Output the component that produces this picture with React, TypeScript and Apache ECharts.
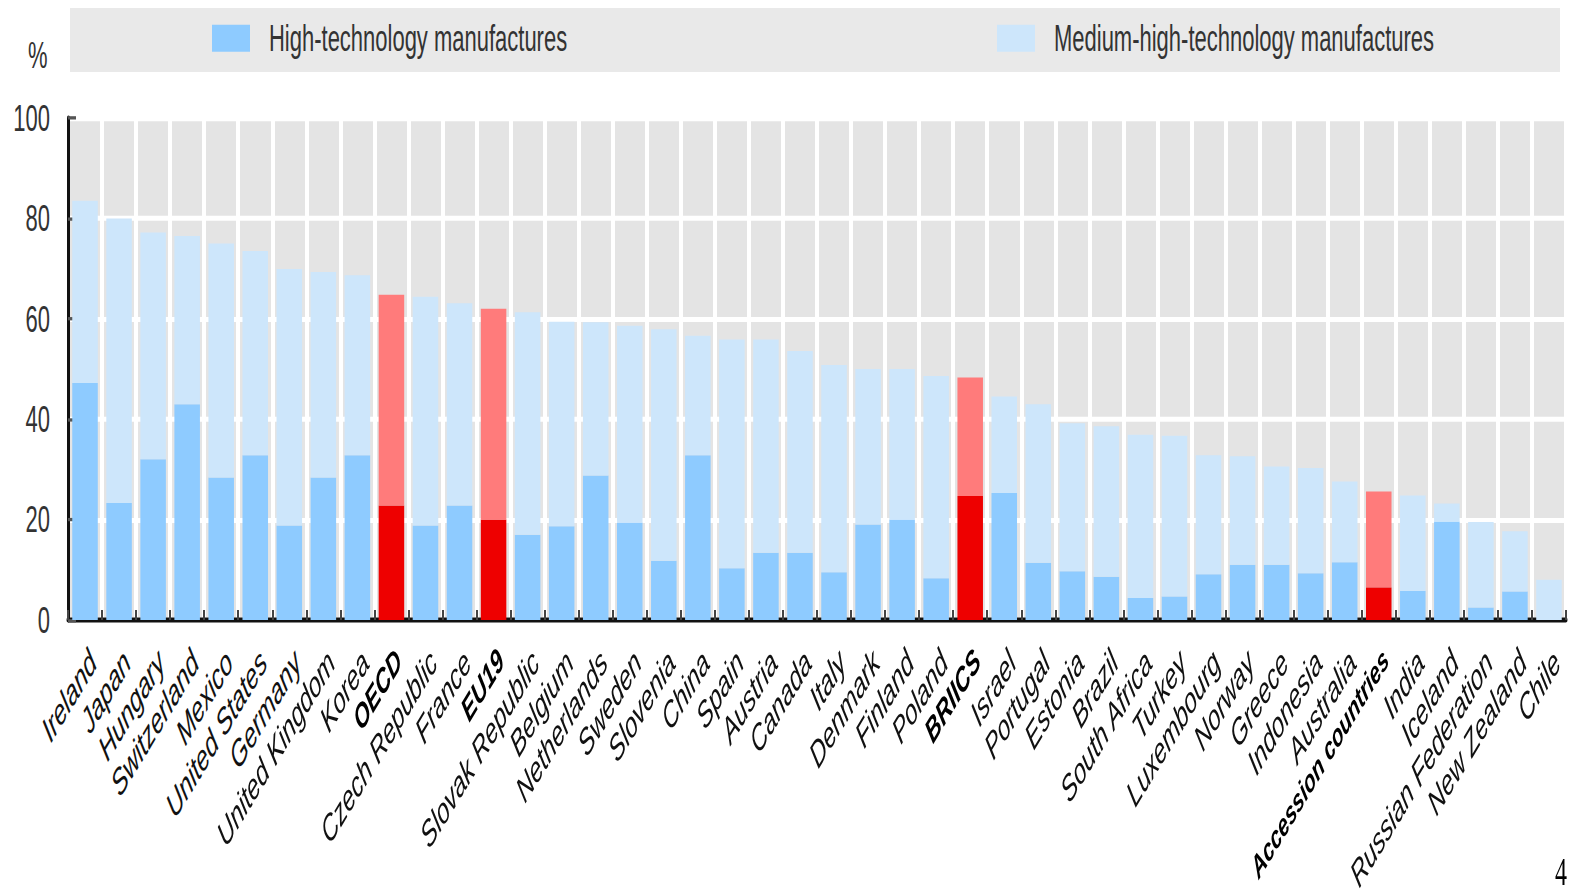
import React, { useEffect, useRef } from "react";
import * as echarts from "echarts";

// The reference is drawn with fonts stretched vertically; we reproduce it by
// rendering the chart at a reduced height and scaling it vertically.
const STRETCH = 1.66;
const PAGE_W = 1574;
const PAGE_H = 896;
const CHART_H = PAGE_H / STRETCH;

const categories = [
  "Ireland", "Japan", "Hungary", "Switzerland", "Mexico", "United States", "Germany",
  "United Kingdom", "Korea", "OECD", "Czech Republic", "France", "EU19", "Slovak Republic",
  "Belgium", "Netherlands", "Sweden", "Slovenia", "China", "Spain", "Austria", "Canada",
  "Italy", "Denmark", "Finland", "Poland", "BRIICS", "Israel", "Portugal", "Estonia",
  "Brazil", "South Africa", "Turkey", "Luxembourg", "Norway", "Greece", "Indonesia",
  "Australia", "Accession countries", "India", "Iceland", "Russian Federation",
  "New Zealand", "Chile",
];

const highlighted = ["OECD", "EU19", "BRIICS", "Accession countries"];

const highTech = [
  47.2, 23.3, 32.0, 43.0, 28.4, 32.8, 18.8, 28.4, 32.8, 22.8, 18.8, 22.8, 20.0, 17.0,
  18.7, 28.8, 19.4, 11.8, 32.8, 10.3, 13.4, 13.4, 9.5, 19.0, 20.0, 8.3, 24.7, 25.3,
  11.4, 9.7, 8.6, 4.4, 4.7, 9.1, 11.0, 11.0, 9.3, 11.5, 6.5, 5.8, 19.6, 2.5, 5.7, 0,
];

const mediumHighTech = [
  36.3, 56.7, 45.2, 33.5, 46.6, 40.7, 51.1, 40.9, 35.9, 42.0, 45.6, 40.3, 42.0, 44.3,
  40.7, 30.5, 39.2, 46.1, 23.8, 45.6, 42.5, 40.2, 41.3, 31.0, 30.0, 40.3, 23.6, 19.2,
  31.6, 29.5, 30.0, 32.5, 32.0, 23.7, 21.6, 19.6, 21.0, 16.1, 19.1, 19.0, 3.6, 17.0,
  12.0, 8.0,
];

const seriesNames = ["High-technology manufactures", "Medium-high-technology manufactures"];
const yMin = 0;
const yMax = 100;
const yInterval = 20;

const FONT = "'Liberation Sans', Arial, sans-serif";
const colors = {
  high: "#8ecbff",
  medium: "#cde6fb",
  highRed: "#ee0000",
  mediumRed: "#ff7b7b",
  plotBg: "#e4e4e4",
  legendBg: "#e9e9e9",
  text: "#333333",
};

function buildOption() {
  const labelStyle = {
    fontFamily: FONT,
    fontStyle: "italic",
    fontSize: 22,
    verticalAlign: "top",
  };
  const catData = categories.map((c) =>
    highlighted.includes(c)
      ? {
          value: c,
          textStyle: {
            ...labelStyle,
            fontSize: c.length > 10 ? 19 : 20.5,
            fontWeight: "bold",
            color: "#000",
          },
        }
      : c
  );
  const highData = highTech.map((v, i) =>
    highlighted.includes(categories[i])
      ? { value: v, itemStyle: { color: colors.highRed } }
      : v
  );
  const medData = mediumHighTech.map((v, i) =>
    highlighted.includes(categories[i])
      ? { value: v, itemStyle: { color: colors.mediumRed } }
      : v
  );
  const zeroY = 620 / STRETCH;
  const topY = 118 / STRETCH;
  const legendCommon = {
    icon: "rect",
    itemWidth: 38,
    itemHeight: 27 / STRETCH,
    top: 12,
    padding: 0,
    selectedMode: false,
    textStyle: {
      fontFamily: FONT,
      fontSize: 22,
      color: colors.text,
      padding: [0, 0, 0, 14],
    },
  };
  return {
    animation: false,
    backgroundColor: "#ffffff",
    grid: {
      left: 68,
      right: PAGE_W - 1566,
      top: topY,
      bottom: CHART_H - zeroY,
      show: true,
      backgroundColor: colors.plotBg,
      borderWidth: 0,
      containLabel: false,
      outerBoundsMode: "none",
    },
    legend: [
      { ...legendCommon, left: 212, data: [seriesNames[0]] },
      { ...legendCommon, left: 997, data: [seriesNames[1]] },
    ],
    graphic: [
      {
        type: "rect",
        z: -1,
        shape: { x: 70, y: 8 / STRETCH, width: 1490, height: 64 / STRETCH },
        style: { fill: colors.legendBg },
      },
      {
        type: "text",
        x: 28,
        y: 37 / STRETCH,
        style: { text: "%", font: `22px ${FONT}`, fill: colors.text },
      },
      {
        type: "text",
        x: 1555,
        y: 852 / STRETCH,
        style: { text: "4", font: "24px 'Liberation Serif', serif", fill: "#000" },
      },
    ],
    xAxis: {
      type: "category",
      data: catData,
      axisLine: { show: true, lineStyle: { color: "#111", width: 3 } },
      axisTick: {
        show: true,
        inside: true,
        length: 6,
        interval: 0,
        lineStyle: { color: "#444", width: 2 },
      },
      splitLine: {
        show: true,
        interval: 0,
        lineStyle: { color: "#ffffff", width: 4 },
      },
      axisLabel: {
        ...labelStyle,
        interval: 0,
        rotate: 45,
        margin: 14,
        color: "#111",
      },
    },
    yAxis: {
      type: "value",
      min: yMin,
      max: yMax,
      interval: yInterval,
      axisLine: { show: true, lineStyle: { color: "#111", width: 3 } },
      axisTick: {
        show: true,
        inside: true,
        length: 8,
        lineStyle: { color: "#555", width: 2 },
      },
      splitLine: { show: true, lineStyle: { color: "#ffffff", width: 3 } },
      axisLabel: {
        margin: 18,
        fontFamily: FONT,
        fontSize: 22,
        color: colors.text,
      },
    },
    series: [
      {
        name: seriesNames[0],
        type: "bar",
        stack: "total",
        barWidth: "75%",
        itemStyle: { color: colors.high },
        data: highData,
      },
      {
        name: seriesNames[1],
        type: "bar",
        stack: "total",
        barWidth: "75%",
        itemStyle: { color: colors.medium },
        data: medData,
      },
    ],
  };
}

export default function App() {
  const ref = useRef<HTMLDivElement>(null);
  useEffect(() => {
    document.body.style.margin = "0";
    if (!ref.current) return;
    const chart = echarts.init(ref.current, null, {
      renderer: "svg",
      width: PAGE_W,
      height: CHART_H,
    });
    chart.setOption(buildOption() as any);
    return () => chart.dispose();
  }, []);
  return (
    <div style={{ width: PAGE_W, height: PAGE_H, overflow: "hidden", background: "#fff" }}>
      <div
        ref={ref}
        style={{
          width: PAGE_W,
          height: CHART_H,
          transform: `scaleY(${STRETCH})`,
          transformOrigin: "0 0",
        }}
      />
    </div>
  );
}
